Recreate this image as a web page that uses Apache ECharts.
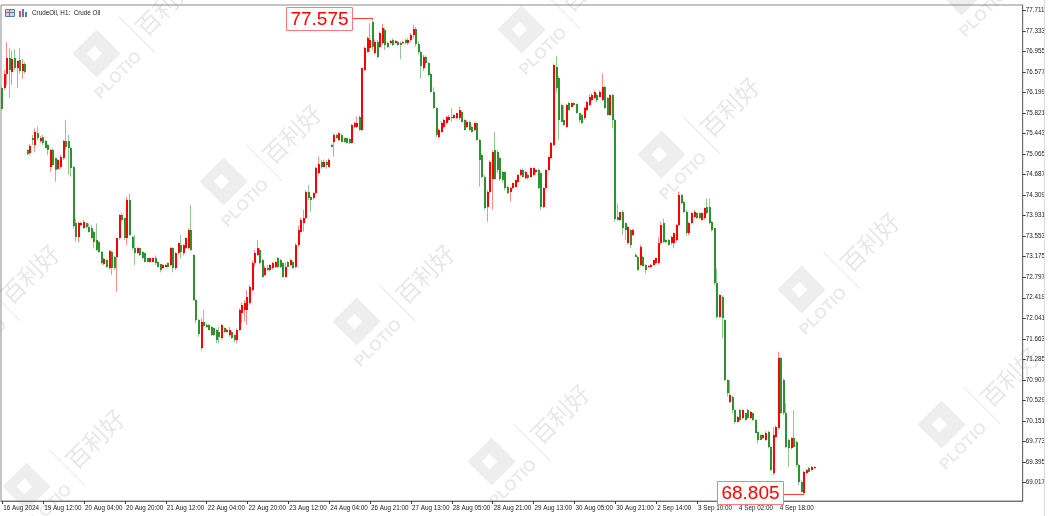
<!DOCTYPE html>
<html><head><meta charset="utf-8">
<style>html,body{margin:0;padding:0;background:#fff}#c{width:1048px;height:516px}</style>
<script src="https://cdn.jsdelivr.net/npm/echarts@6/dist/echarts.min.js"></script>
</head><body><div id="c"></div>
<script>
const xTickLabels = ['16 Aug 2024','19 Aug 12:00','20 Aug 04:00','20 Aug 20:00','21 Aug 12:00','22 Aug 04:00','22 Aug 20:00','23 Aug 12:00','24 Aug 04:00','26 Aug 21:00','27 Aug 13:00','28 Aug 05:00','28 Aug 21:00','29 Aug 13:00','30 Aug 05:00','30 Aug 21:00','2 Sep 14:00','3 Sep 10:00','4 Sep 02:00','4 Sep 18:00'];
const yTicks = [77.711,77.333,76.955,76.577,76.199,75.821,75.443,75.065,74.687,74.309,73.931,73.553,73.175,72.797,72.419,72.041,71.663,71.285,70.907,70.529,70.151,69.773,69.395,69.017];
const symbolTitle = 'CrudeOil, H1:  Crude Oil';

const open = [
76.29,76.29,76.54,76.84,76.58,76.84,76.66,76.80,76.60,76.73,
75.143,75.081,75.36,75.235,75.45,75.30,75.389,75.309,75.235,74.835,
75.143,74.989,74.80,74.835,74.989,75.30,75.309,75.186,74.835,73.791,
73.545,73.760,73.711,73.791,73.729,73.698,73.637,73.483,73.452,73.268,
73.035,73.115,72.961,73.268,73.176,73.176,73.514,73.944,73.883,73.514,
74.221,73.545,73.330,73.237,73.330,73.268,73.237,73.145,73.084,73.084,
73.145,73.084,73.035,72.961,72.992,73.053,73.022,73.330,72.961,73.237,
73.391,73.237,73.330,73.330,73.668,73.20,72.377,72.008,71.49,71.978,
71.92,71.916,71.885,71.855,71.824,71.793,71.670,71.855,71.793,71.732,
71.793,71.732,71.640,71.824,72.131,72.193,72.193,72.316,72.561,73.053,
73.207,73.299,73.115,72.838,72.961,72.930,72.961,72.992,73.145,73.115,
73.053,72.807,73.084,73.022,73.084,72.992,73.391,73.637,73.791,73.883,
74.374,74.282,74.252,74.344,74.712,74.928,74.835,74.928,74.835,75.235,
75.296,75.419,75.327,75.419,75.358,75.358,75.339,75.278,75.573,75.573,
75.757,75.511,76.618,76.956,77.017,77.509,76.925,77.140,77.048,77.109,
77.355,77.109,77.109,77.171,77.122,77.140,77.122,77.109,77.171,77.109,
77.17,77.26,77.38,77.10,76.95,76.65,76.85,76.74,76.55,76.218,
75.911,75.388,75.48,75.573,75.634,75.696,75.757,75.726,75.726,75.726,
75.849,75.696,75.573,75.665,75.573,75.511,75.634,75.327,75.050,74.651,
74.098,74.374,74.608,75.142,75.112,74.989,74.743,74.743,74.466,74.374,
74.435,74.466,74.546,74.681,74.774,74.620,74.681,74.651,74.681,74.743,
74.774,74.712,74.098,74.435,74.774,74.989,75.235,76.679,76.464,75.972,
75.696,75.573,76.003,75.941,76.003,75.990,75.818,75.788,75.726,75.880,
75.972,76.064,76.095,76.157,76.126,76.064,76.310,76.095,75.788,76.157,
75.696,73.913,73.851,74.005,73.790,73.421,73.667,73.575,73.206,73.175,
73.022,73.175,73.022,72.991,72.991,73.022,73.053,73.053,73.421,73.790,
73.483,73.483,73.421,73.421,73.483,73.759,74.312,74.189,74.005,73.606,
73.790,73.913,73.975,73.975,73.851,73.882,74.097,74.097,73.821,73.698,
72.684,72.069,72.438,72.008,70.901,70.502,70.594,70.348,70.133,70.348,
70.195,70.287,70.348,70.195,70.287,70.164,69.949,69.887,69.826,69.795,
69.949,69.672,69.181,69.857,70.010,71.301,70.901,70.287,69.795,69.641,
69.826,69.764,69.334,69.027,68.82,69.181,69.273,69.242,69.273
];
const high = [
76.34,76.62,77.13,77.02,76.97,77.00,76.80,77.02,76.82,76.76,
75.16,75.25,75.42,75.542,75.573,75.40,75.42,75.33,75.26,75.16,
75.17,75.00,74.98,75.05,75.327,75.696,75.419,75.20,74.85,73.883,
73.82,73.82,73.85,73.80,73.791,73.760,73.66,73.791,73.47,73.28,
73.16,73.13,73.30,73.29,73.19,73.53,73.96,73.98,73.90,74.282,
74.344,73.56,73.575,73.35,73.34,73.28,73.25,73.16,73.16,73.16,
73.20,73.10,73.04,73.04,73.04,73.07,73.35,73.35,73.26,73.44,
73.575,73.40,73.53,73.70,74.129,73.22,72.40,72.03,72.04,72.19,
71.95,71.93,71.90,71.87,71.84,71.885,71.93,71.87,71.85,71.88,
71.81,71.75,71.85,72.22,72.33,72.377,72.561,72.65,73.10,73.30,
73.483,73.33,73.14,73.00,73.02,73.04,73.08,73.10,73.17,73.13,
73.07,73.07,73.10,73.13,73.10,73.422,73.75,73.90,74.04,74.40,
74.497,74.30,74.36,74.835,75.020,74.96,74.97,74.96,74.99,75.26,
75.45,75.44,75.47,75.44,75.37,75.37,75.36,75.62,75.66,75.76,
75.78,76.66,77.05,77.23,77.48,77.575,77.18,77.17,77.33,77.466,
77.39,77.14,77.18,77.20,77.17,77.16,77.14,77.16,77.19,77.20,
77.30,77.45,77.41,77.15,76.97,76.90,76.89,76.76,76.57,76.30,
75.93,75.54,75.67,75.72,75.77,75.79,75.911,75.80,75.83,75.941,
75.87,75.71,75.69,75.68,75.59,75.65,75.65,75.35,75.08,74.68,
74.40,74.95,75.13,75.48,75.14,75.02,74.76,74.75,74.48,74.46,
74.52,74.60,74.70,74.79,74.80,74.76,74.70,74.82,74.82,74.78,
74.80,74.73,74.45,74.79,75.03,75.29,76.74,76.88,76.50,76.00,
75.97,75.99,76.03,76.02,76.02,76.00,75.83,75.80,75.94,76.05,
76.17,76.19,76.24,76.19,76.24,76.557,76.33,76.12,76.17,76.18,
75.72,74.159,74.00,74.03,73.80,73.75,73.68,73.69,73.24,73.19,
73.39,73.20,73.04,73.02,73.04,73.12,73.16,73.544,73.821,73.882,
73.50,73.50,73.56,73.62,73.78,74.374,74.33,74.21,74.04,73.82,
74.00,74.04,74.00,73.99,73.99,74.08,74.251,74.251,73.84,73.71,
72.96,72.48,72.46,72.02,70.92,70.901,70.61,70.36,70.24,70.37,
70.36,70.30,70.37,70.33,70.30,70.18,69.96,69.90,69.90,69.96,
69.97,69.69,70.03,70.06,71.424,71.33,70.93,70.48,69.82,69.84,
70.348,69.78,69.35,69.05,69.23,69.26,69.30,69.32,69.31
];
const low = [
75.86,76.25,76.34,76.10,76.34,76.60,76.29,76.55,76.46,76.55,
75.05,75.05,75.23,75.100,75.33,75.28,75.235,75.17,75.050,74.743,
74.84,74.559,74.78,74.80,74.96,75.15,74.682,74.651,73.70,73.452,
73.440,73.74,73.69,73.70,73.62,73.50,73.330,73.28,73.25,73.03,
73.02,72.97,72.94,72.838,72.930,72.531,73.49,73.83,73.48,73.391,
73.56,73.30,73.022,73.22,73.19,73.13,73.07,73.07,73.07,73.07,
73.022,72.98,72.887,72.95,72.98,72.98,73.00,72.887,72.93,73.22,
73.145,73.20,73.31,73.31,73.28,72.36,71.95,71.70,71.455,71.88,
71.86,71.82,71.71,71.71,71.578,71.578,71.65,71.77,71.78,71.70,
71.66,71.597,71.578,71.80,71.95,71.978,71.916,72.29,72.54,72.99,
73.19,73.03,72.79,72.82,72.91,72.90,72.94,72.97,72.97,72.97,
72.79,72.79,72.98,73.00,72.95,72.96,73.36,73.62,73.64,73.86,
74.22,74.006,74.23,74.32,74.69,74.80,74.82,74.80,74.82,75.19,
75.020,75.35,75.31,75.29,75.28,75.26,75.25,75.26,75.55,75.55,
75.50,75.49,76.60,76.94,76.95,76.98,76.90,76.83,77.02,77.09,
76.987,77.02,77.09,77.06,77.10,77.06,76.814,77.09,77.09,77.08,
77.14,77.20,77.05,76.90,76.46,76.60,76.70,76.50,76.20,75.90,
75.38,75.36,75.46,75.55,75.61,75.68,75.665,75.71,75.71,75.70,
75.65,75.50,75.55,75.49,75.46,75.49,75.31,74.466,74.62,74.036,
73.821,74.34,74.04,74.59,74.72,74.57,74.54,74.40,74.33,74.19,
74.42,74.45,74.53,74.66,74.63,74.60,74.60,74.63,74.66,74.70,
74.42,74.036,74.07,74.42,74.76,74.97,75.21,76.20,75.33,75.66,
75.59,75.55,75.86,75.93,75.96,75.81,75.65,75.62,75.70,75.86,
75.95,76.04,76.08,76.02,76.11,76.04,75.90,75.78,75.77,75.54,
73.82,73.84,73.83,73.575,73.483,73.40,73.33,73.56,73.17,72.92,
73.00,72.99,72.868,72.97,72.98,73.01,73.04,73.03,73.40,73.43,
73.42,73.38,73.40,73.329,73.46,73.74,74.14,73.98,73.56,73.57,
73.77,73.90,73.87,73.87,73.84,73.86,73.96,73.77,73.64,72.65,
72.04,72.05,71.670,70.88,70.60,70.48,70.287,70.10,70.12,70.15,
70.18,70.15,70.18,70.18,70.15,69.93,69.73,69.80,69.81,69.78,
69.64,69.22,69.150,69.84,69.99,70.27,70.26,69.65,69.30,69.62,
69.66,69.30,68.965,68.83,68.805,69.17,69.20,69.23,69.26
];
const close = [
75.90,76.54,76.84,76.62,76.82,76.66,76.78,76.60,76.73,76.58,
75.069,75.222,75.33,75.481,75.36,75.36,75.266,75.186,75.143,75.143,
74.866,74.774,74.958,75.020,75.30,75.20,75.173,74.805,73.741,73.545,
73.791,73.791,73.809,73.729,73.637,73.514,73.452,73.299,73.268,73.053,
73.133,72.992,73.281,72.961,72.961,73.514,73.944,73.852,73.514,74.221,
73.575,73.330,73.237,73.330,73.207,73.145,73.084,73.084,73.145,73.145,
73.053,72.992,72.930,73.022,73.022,72.992,73.330,72.961,73.237,73.422,
73.268,73.391,73.514,73.668,73.299,72.377,72.008,71.75,71.978,71.90,
71.88,71.824,71.732,71.732,71.640,71.701,71.916,71.79,71.824,71.824,
71.670,71.640,71.824,72.193,72.285,72.316,72.438,72.623,73.053,73.237,
73.330,73.053,72.807,72.961,72.93,73.022,73.053,73.084,72.992,72.992,
72.807,72.992,72.992,73.115,72.961,73.391,73.668,73.852,73.883,74.374,
74.252,74.221,74.344,74.805,74.885,74.835,74.928,74.866,74.958,75.204,
75.419,75.358,75.450,75.296,75.296,75.278,75.266,75.604,75.634,75.647,
75.511,76.648,77.017,77.202,77.171,77.048,77.140,76.864,77.294,77.386,
77.079,77.048,77.159,77.079,77.159,77.079,77.079,77.140,77.109,77.17,
77.26,77.38,77.10,76.95,76.70,76.85,76.74,76.525,76.218,75.911,
75.419,75.511,75.634,75.696,75.757,75.757,75.726,75.788,75.818,75.880,
75.665,75.511,75.665,75.511,75.480,75.634,75.327,74.958,74.651,74.067,
74.374,74.927,75.112,74.608,74.774,74.608,74.589,74.435,74.343,74.435,
74.528,74.589,74.681,74.774,74.651,74.743,74.620,74.804,74.804,74.774,
74.435,74.098,74.435,74.774,75.020,75.265,76.710,76.279,75.696,75.665,
75.603,75.972,75.880,76.003,75.972,75.818,75.696,75.634,75.911,76.034,
76.126,76.157,76.218,76.064,76.218,76.310,75.911,75.788,76.157,75.696,
73.88,73.851,74.005,73.698,73.667,73.729,73.391,73.667,73.175,72.930,
73.360,73.003,72.930,73.003,73.022,73.114,73.145,73.421,73.759,73.452,
73.452,73.391,73.544,73.606,73.759,74.312,74.159,74.005,73.606,73.790,
73.975,74.005,73.882,73.882,73.975,74.067,73.975,73.790,73.667,72.684,
72.069,72.468,72.038,70.901,70.656,70.625,70.348,70.133,70.225,70.164,
70.348,70.164,70.195,70.317,70.164,69.918,69.795,69.795,69.887,69.918,
69.672,69.242,69.887,70.041,71.301,70.287,70.287,69.672,69.641,69.826,
69.672,69.334,69.027,68.842,69.211,69.242,69.211,69.303,69.303
];

// ---- layout / style ----
const SLOTS = 400, LABEL_EVERY = 16;
const Y_MIN = 68.672, Y_MAX = 77.816;
const GRID = {left: 1, right: 25, top: 5, bottom: 15};
const UP = '#ff0000', UP_WICK = '#ff8c8c', DN = '#2f912f', DN_WICK = '#92c992';
const FONT = '"Liberation Sans", Arial, sans-serif';
const WATERMARK_SPOTS = [[110,67],[237,195],[370,335],[505,475],[535,43],[675,168],[815,303],[955,438],[975,5],[40,500],[-25,335]];

const slots = Array.from({length: SLOTS}, (_, i) => String(i));
const bars = open.map((o, i) => [i, o, close[i], low[i], high[i]]);

const chart = echarts.init(document.getElementById('c'), null, {renderer: 'canvas'});
const every = (idx) => idx % LABEL_EVERY === 0 && idx / LABEL_EVERY < xTickLabels.length;

chart.setOption({
  animation: false,
  backgroundColor: '#ffffff',
  grid: Object.assign({show: true, borderColor: '#8a8a8a', borderWidth: 1, backgroundColor: 'transparent'}, GRID),
  xAxis: {
    type: 'category', data: slots, boundaryGap: true,
    axisLine: {show: true, lineStyle: {color: '#6e6e6e', width: 1}},
    axisTick: {show: true, alignWithLabel: true, interval: every, length: 3, lineStyle: {color: '#3c3c3c'}},
    axisLabel: {interval: every, formatter: (v, idx) => xTickLabels[idx / LABEL_EVERY] || '', align: 'left',
      fontSize: 6.3, fontFamily: FONT, color: '#1a1a1a', margin: 4, padding: [0, 0, 0, 1]},
    splitLine: {show: false}
  },
  yAxis: {
    type: 'value', position: 'right', min: Y_MIN, max: Y_MAX, scale: true,
    axisLine: {show: true, lineStyle: {color: '#6e6e6e', width: 1}},
    axisTick: {show: true, customValues: yTicks, length: 3, lineStyle: {color: '#3c3c3c'}},
    axisLabel: {customValues: yTicks, formatter: v => v.toFixed(3), fontSize: 6.3, fontFamily: FONT, color: '#1a1a1a', margin: 3},
    splitLine: {show: false}
  },
  series: [{
    type: 'custom', data: bars, clip: true, z: 5,
    encode: {x: 0, y: [1, 2, 3, 4]},
    renderItem: function (params, api) {
      const i = api.value(0), o = api.value(1), c = api.value(2), l = api.value(3), h = api.value(4);
      const up = c > o;
      const pTop = api.coord([i, Math.max(o, c)]), pBot = api.coord([i, Math.min(o, c)]);
      const pH = api.coord([i, h]), pL = api.coord([i, l]);
      const cx = Math.round(pTop[0]);
      const y1 = Math.round(pTop[1]);
      const y2 = Math.max(Math.round(pBot[1]), y1 + 1);
      return {type: 'group', children: [
        {type: 'line', shape: {x1: cx - 0.5, y1: pH[1], x2: cx - 0.5, y2: pL[1]}, style: {stroke: up ? UP_WICK : DN_WICK, lineWidth: 1}},
        {type: 'rect', shape: {x: cx - 1, y: y1, width: 2, height: y2 - y1}, style: {fill: up ? UP : DN}}
      ]};
    }
  }]
});

// ---- background watermarks (decoration, beneath everything) ----
function watermark(x, y) {
  return {type: 'group', x: x, y: y, rotation: Math.PI / 4, silent: true, z: -10, children: [
    {type: 'rect', z: -10, shape: {x: -17, y: -36, width: 34, height: 34}, style: {fill: '#eeeeee'}},
    {type: 'rect', z: -10, shape: {x: -7, y: -26, width: 11, height: 11}, style: {fill: '#ffffff'}},
    {type: 'text', z: -10, x: 0, y: 12, style: {text: 'PLOTIO', font: 'bold 16px ' + FONT, fill: '#ebebeb', align: 'center', verticalAlign: 'middle'}},
    {type: 'line', z: -10, shape: {x1: 42, y1: -30, x2: 42, y2: 22}, style: {stroke: '#ededed', lineWidth: 1.2}},
    {type: 'text', z: -10, x: 82, y: -4, style: {text: '百利好', font: '24px "Noto Sans CJK SC"', fill: '#e8e8e8', align: 'center', verticalAlign: 'middle'}}
  ]};
}
const g = WATERMARK_SPOTS.map(p => watermark(p[0], p[1]));

// ---- extreme-price callouts, positioned through the chart's own scales ----
let hiIdx = 0, loIdx = 0;
high.forEach((v, i) => { if (v > high[hiIdx]) hiIdx = i; });
low.forEach((v, i) => { if (v < low[loIdx]) loIdx = i; });
const plotBottom = 516 - GRID.bottom;
function callout(idx, price) {
  const p = chart.convertToPixel({gridIndex: 0}, [idx, price]);
  const w = 66, h = 23, gap = 21;
  const py = Math.round(p[1]);
  const bx = Math.round(p[0]) - gap - w;
  const by = Math.min(py - 11, plotBottom + 3 - h);
  return [
    {type: 'line', z: 100, shape: {x1: bx + w, y1: py + 0.5, x2: Math.round(p[0]), y2: py + 0.5}, style: {stroke: '#ff3b3b', lineWidth: 1}},
    {type: 'rect', z: 100, shape: {x: bx + 0.5, y: by + 0.5, width: w, height: h}, style: {fill: '#ffffff', stroke: '#ff7b7b', lineWidth: 1}},
    {type: 'text', z: 101, x: bx + w / 2 + 0.5, y: by + h / 2 + 1.5, style: {text: price.toFixed(3), fill: '#ff0000', font: '19px ' + FONT, align: 'center', verticalAlign: 'middle'}}
  ];
}
g.push.apply(g, callout(hiIdx, high[hiIdx]));
g.push.apply(g, callout(loIdx, low[loIdx]));
// header: icons + symbol text
g.push(
  {type: 'rect', z: 100, shape: {x: 5.5, y: 9.5, width: 9, height: 7}, style: {fill: '#f6c4c4', stroke: '#4f7fc4', lineWidth: 1}},
  {type: 'line', z: 100, shape: {x1: 5.5, y1: 12.5, x2: 14.5, y2: 12.5}, style: {stroke: '#4f7fc4', lineWidth: 1}},
  {type: 'line', z: 100, shape: {x1: 9.5, y1: 9.5, x2: 9.5, y2: 16.5}, style: {stroke: '#4f7fc4', lineWidth: 1}},
  {type: 'rect', z: 100, shape: {x: 19, y: 11, width: 2, height: 6}, style: {fill: '#e24a4a'}},
  {type: 'rect', z: 100, shape: {x: 22, y: 9, width: 2, height: 8}, style: {fill: '#4f7fc4'}},
  {type: 'rect', z: 100, shape: {x: 25, y: 12, width: 2, height: 5}, style: {fill: '#4f7fc4'}},
  {type: 'text', z: 100, x: 32, y: 13, style: {text: symbolTitle, fill: '#1a1a1a', font: '6.3px ' + FONT, verticalAlign: 'middle'}},
  {type: 'line', z: 100, silent: true, shape: {x1: 1044.5, y1: 0, x2: 1044.5, y2: 516}, style: {stroke: '#dcdcdc', lineWidth: 1}}
);
chart.setOption({graphic: g});
</script></body></html>
